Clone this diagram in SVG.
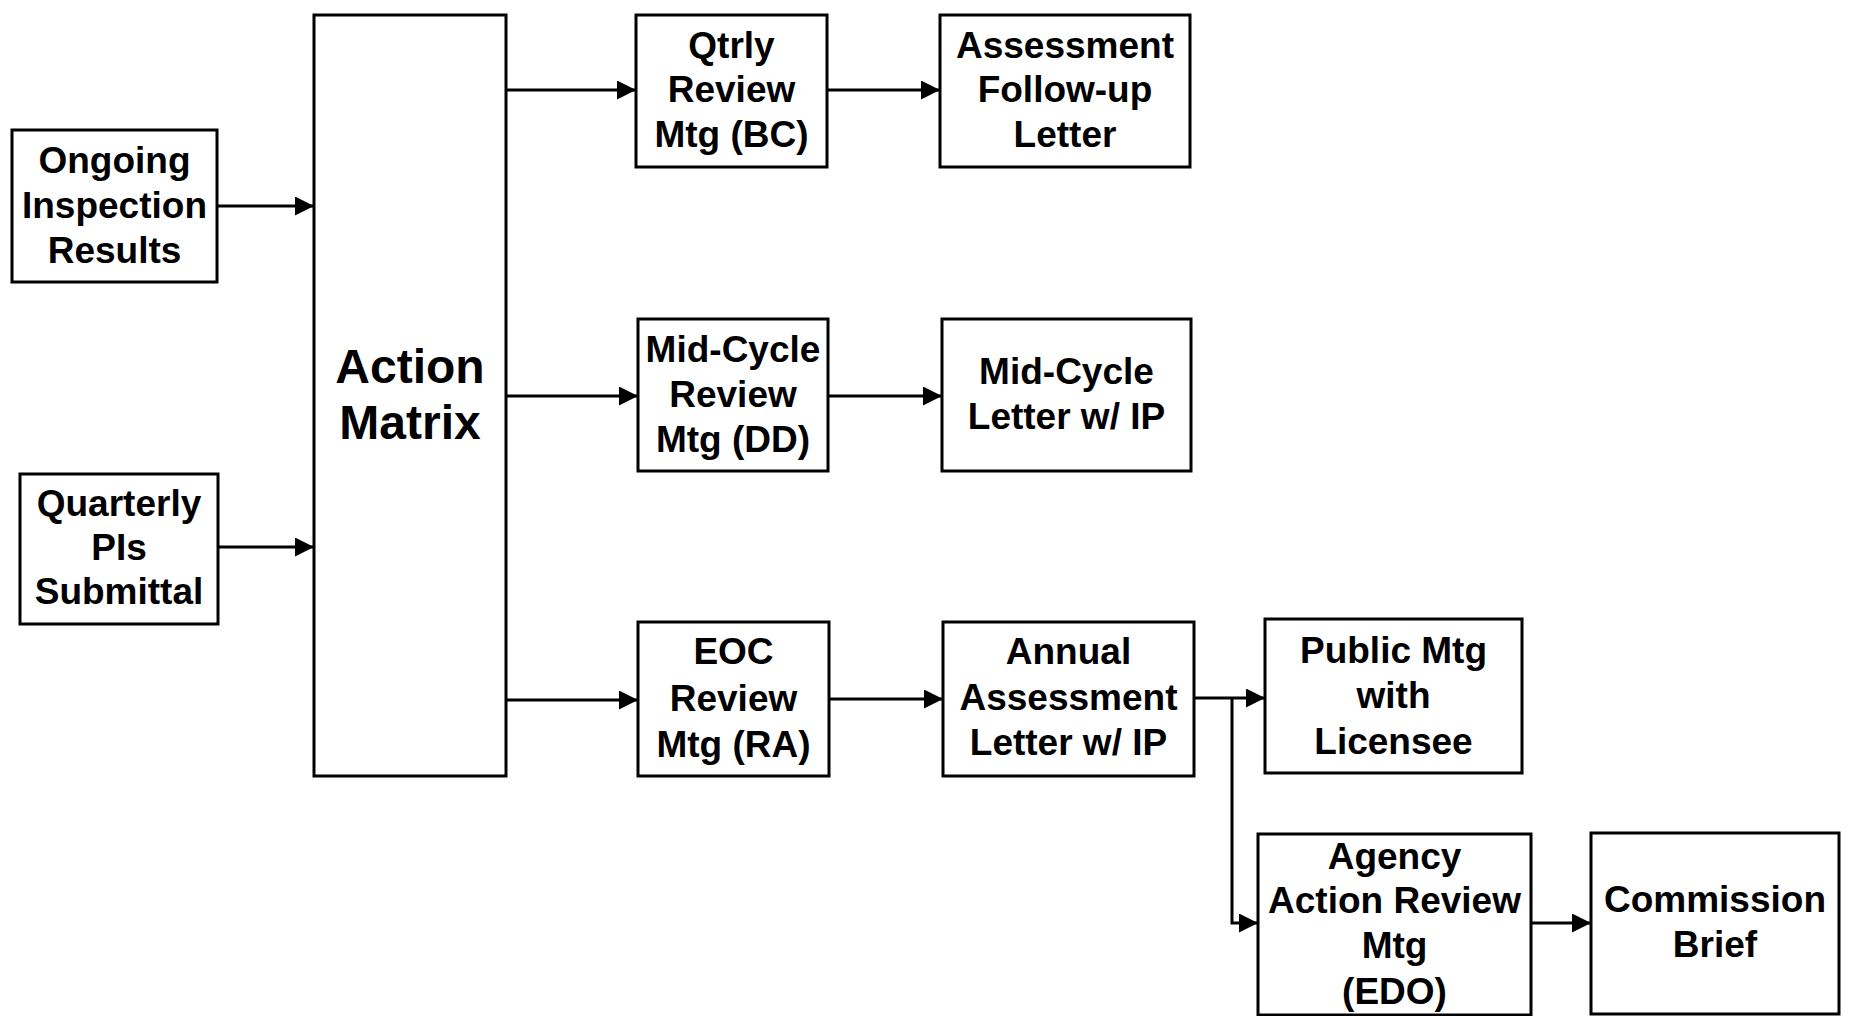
<svg xmlns="http://www.w3.org/2000/svg" width="1857" height="1016" viewBox="0 0 1857 1016">
<defs>
<marker id="ah" viewBox="0 0 10 10" refX="10" refY="5" markerWidth="19" markerHeight="19" markerUnits="userSpaceOnUse" orient="auto">
<path d="M0,0 L10,5 L0,10 z" fill="#000"/>
</marker>
</defs>
<style>
.box{fill:#fff;stroke:#000;stroke-width:3}
.t{font-family:"Liberation Sans",Arial,sans-serif;font-weight:bold;font-size:37px;text-anchor:middle;fill:#000}
.big{font-size:48px}
.c{fill:none;stroke:#000;stroke-width:3}
</style>
<rect width="1857" height="1016" fill="#fff"/>
<g id="connectors">
<line class="c" x1="217" y1="206" x2="314" y2="206" marker-end="url(#ah)"/>
<line class="c" x1="218" y1="547" x2="314" y2="547" marker-end="url(#ah)"/>
<line class="c" x1="506" y1="90" x2="636" y2="90" marker-end="url(#ah)"/>
<line class="c" x1="506" y1="396" x2="638" y2="396" marker-end="url(#ah)"/>
<line class="c" x1="506" y1="700" x2="638" y2="700" marker-end="url(#ah)"/>
<line class="c" x1="827" y1="90" x2="940" y2="90" marker-end="url(#ah)"/>
<line class="c" x1="828" y1="396" x2="942" y2="396" marker-end="url(#ah)"/>
<line class="c" x1="829" y1="699" x2="943" y2="699" marker-end="url(#ah)"/>
<line class="c" x1="1194" y1="698" x2="1265" y2="698" marker-end="url(#ah)"/>
<polyline class="c" points="1232,698 1232,923 1258,923" marker-end="url(#ah)"/>
<line class="c" x1="1531" y1="923" x2="1591" y2="923" marker-end="url(#ah)"/>
</g>
<g id="ongoing">
<rect class="box" x="12" y="130" width="205" height="152"/>
<text class="t" x="114.5" y="173">Ongoing</text>
<text class="t" x="114.5" y="218">Inspection</text>
<text class="t" x="114.5" y="263">Results</text>
</g>
<g id="quarterly">
<rect class="box" x="20" y="474" width="198" height="150"/>
<text class="t" x="119" y="516">Quarterly</text>
<text class="t" x="119" y="560">PIs</text>
<text class="t" x="119" y="604">Submittal</text>
</g>
<g id="action-matrix">
<rect class="box" x="314" y="15" width="192" height="761"/>
<text class="t big" x="410" y="383">Action</text>
<text class="t big" x="410" y="439">Matrix</text>
</g>
<g id="qtrly">
<rect class="box" x="636" y="15" width="191" height="152"/>
<text class="t" x="731.5" y="58">Qtrly</text>
<text class="t" x="731.5" y="102">Review</text>
<text class="t" x="731.5" y="147">Mtg (BC)</text>
</g>
<g id="assessment-followup">
<rect class="box" x="940" y="15" width="250" height="152"/>
<text class="t" x="1065" y="58">Assessment</text>
<text class="t" x="1065" y="102">Follow-up</text>
<text class="t" x="1065" y="147">Letter</text>
</g>
<g id="midcycle-review">
<rect class="box" x="638" y="319" width="190" height="152"/>
<text class="t" x="733" y="362">Mid-Cycle</text>
<text class="t" x="733" y="407">Review</text>
<text class="t" x="733" y="452">Mtg (DD)</text>
</g>
<g id="midcycle-letter">
<rect class="box" x="942" y="319" width="249" height="152"/>
<text class="t" x="1066.5" y="384">Mid-Cycle</text>
<text class="t" x="1066.5" y="429">Letter w/ IP</text>
</g>
<g id="eoc">
<rect class="box" x="638" y="622" width="191" height="154"/>
<text class="t" x="733.5" y="664">EOC</text>
<text class="t" x="733.5" y="711">Review</text>
<text class="t" x="733.5" y="757">Mtg (RA)</text>
</g>
<g id="annual">
<rect class="box" x="943" y="622" width="251" height="154"/>
<text class="t" x="1068.5" y="664">Annual</text>
<text class="t" x="1068.5" y="710">Assessment</text>
<text class="t" x="1068.5" y="755">Letter w/ IP</text>
</g>
<g id="public">
<rect class="box" x="1265" y="619" width="257" height="154"/>
<text class="t" x="1393.5" y="663">Public Mtg</text>
<text class="t" x="1393.5" y="708">with</text>
<text class="t" x="1393.5" y="754">Licensee</text>
</g>
<g id="agency">
<rect class="box" x="1258" y="834" width="273" height="181"/>
<text class="t" x="1394.5" y="869">Agency</text>
<text class="t" x="1394.5" y="913">Action Review</text>
<text class="t" x="1394.5" y="958">Mtg</text>
<text class="t" x="1394.5" y="1004">(EDO)</text>
</g>
<g id="commission">
<rect class="box" x="1591" y="833" width="248" height="181"/>
<text class="t" x="1715" y="912">Commission</text>
<text class="t" x="1715" y="957">Brief</text>
</g>
</svg>
